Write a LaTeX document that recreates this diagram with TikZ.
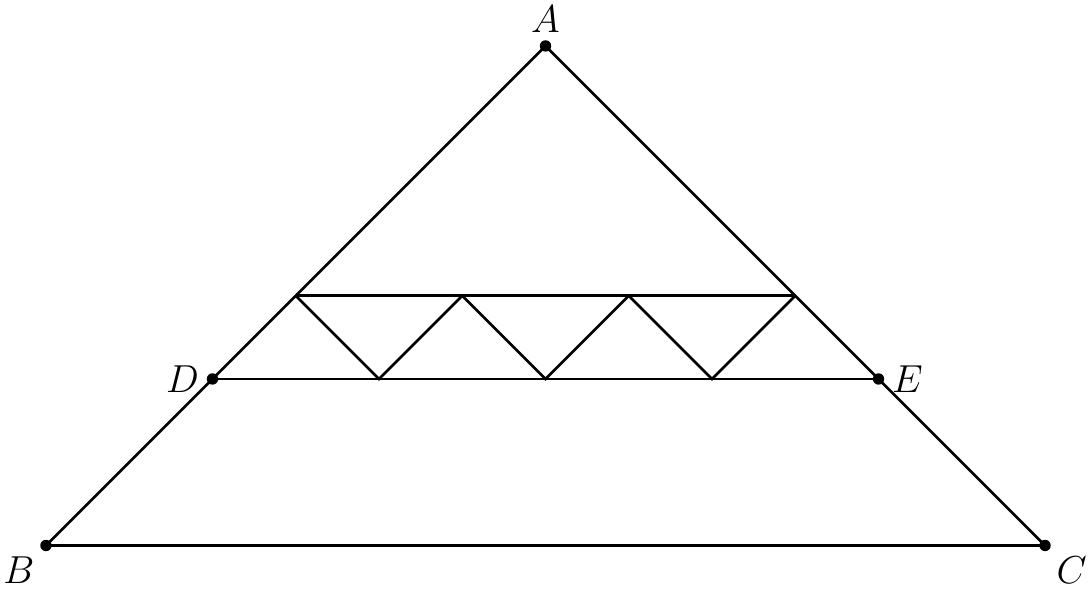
\documentclass[tikz,border=0pt]{standalone}
\usetikzlibrary{positioning}
\tikzstyle{pt} = [circle, fill=black, minimum width=3.5pt, inner sep=0pt]
\tikzstyle{edge} = [thick]

\begin{document}
\begin{tikzpicture}[x=1.8cm, y=1.8cm, every label/.style={font=\large, inner sep=2pt}]
    \useasboundingbox (-0.276, -0.264) rectangle (6.27, 3.276);

    % Points.
    \node (A) [pt, label=above:$A$] at (3, 3) {};
    \node (B) [pt, label=below left:$B$] at (0, 0) {};
    \node (C) [pt, label=below right:$C$] at (6, 0) {};
    \node (D) [pt, label=left:$D$] at (1, 1) {};
    \node (E) [pt, label=right:$E$] at (5, 1) {};

    % Zigzag points.
    \foreach \i in {1, ..., 4} {
        \coordinate (t\i) at (\i + 0.5, 1.5);
    }
    \foreach \i in {1, ..., 3} {
        \coordinate (b\i) at (\i + 1, 1);
    }

    % Triangle.
    \draw [edge] (A.center) -- (B.center) -- (C.center) -- cycle;
    \draw [edge] (D.center) -- (E.center);
    \draw [edge] (t1) -- (t4);

    % Zigzag.
    \draw [edge] (t1) -- (b1) -- (t2) -- (b2) -- (t3) -- (b3) -- (t4);
\end{tikzpicture}
\end{document}
